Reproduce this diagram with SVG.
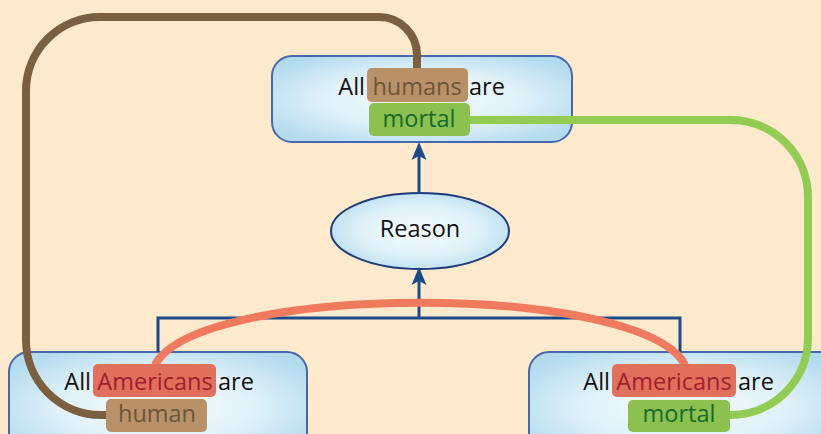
<svg xmlns="http://www.w3.org/2000/svg" width="821" height="434" viewBox="0 0 821 434">
<defs>
<radialGradient id="boxg" cx="50%" cy="50%" r="60%">
<stop offset="0" stop-color="#f7fcfd"/>
<stop offset="0.55" stop-color="#dff1f8"/>
<stop offset="1" stop-color="#b3dbee"/>
</radialGradient>
<marker id="arr" markerWidth="18" markerHeight="18" refX="9" refY="9" orient="auto" markerUnits="userSpaceOnUse" viewBox="0 0 18 18">
<path d="M0,1.5 L18,9 L0,16.5 L4,9 Z" fill="#1b4a8a"/>
</marker>
<style>
.box{fill:url(#boxg);stroke:#4867ae;stroke-width:2}
.t{font-family:"Open Sans","Liberation Sans",sans-serif;font-size:23.5px;fill:#111}
.m{text-anchor:middle}
.e{text-anchor:end}
.hb{fill:#b99169}
.ht{fill:#6b5636}
.ra{fill:#e0705c}
.rt{fill:#a11f2a}
.gb{fill:#8cc04f}
.gt{fill:#136a2c}
.con{fill:none;stroke-width:8;stroke-linecap:butt}
.blue{fill:none;stroke:#1b4a8a;stroke-width:3}
</style>
</defs>
<rect width="821" height="434" fill="#fde9cc"/>

<g id="top-node">
<rect class="box" x="272" y="56" width="300" height="86" rx="20"/>
</g>
<g id="reason">
<ellipse cx="420" cy="231" rx="89" ry="38" fill="url(#boxg)" stroke="#1e3b7a" stroke-width="2"/>
<text class="t m" x="420" y="237">Reason</text>
</g>
<g id="left-node">
<rect class="box" x="9" y="352" width="298" height="110" rx="20"/>
</g>
<g id="right-node">
<rect class="box" x="529" y="352" width="310" height="110" rx="20"/>
</g>

<g id="connectors">
<path class="blue" d="M158,352 V318 H680 V352"/>
<path class="blue" d="M419,318 V276" marker-end="url(#arr)"/>
<path class="blue" d="M419,193 V151" marker-end="url(#arr)"/>
<path class="con" stroke="#ef7a5e" d="M155,365 C198,282 642,282 685,365"/>
<path class="con" stroke="#7a6040" d="M417,69 V55 A38,38 0 0 0 379,17 H100 A74,74 0 0 0 26,91 V340 A75,75 0 0 0 101,415 H107"/>
<path class="con" stroke="#93cc52" d="M470,120 H731 A77,77 0 0 1 808,197 V338 A77,77 0 0 1 731,415 H730"/>
</g>

<g id="top-labels">
<rect class="hb" x="367" y="68" width="101" height="34" rx="5"/>
<rect class="gb" x="369" y="103" width="101" height="33" rx="5"/>
<text class="t e" x="365" y="95">All</text>
<text class="t ht m" x="417" y="95">humans</text>
<text class="t" x="469" y="95">are</text>
<text class="t gt m" x="419" y="127">mortal</text>
</g>
<g id="left-labels">
<rect class="ra" x="93" y="364" width="123" height="33" rx="5"/>
<rect class="hb" x="106" y="399" width="101" height="33" rx="5"/>
<text class="t e" x="91" y="390">All</text>
<text class="t rt m" x="155" y="390">Americans</text>
<text class="t" x="218" y="390">are</text>
<text class="t ht m" x="157" y="422">human</text>
</g>
<g id="right-labels">
<rect class="ra" x="612" y="364" width="124" height="33" rx="5"/>
<rect class="gb" x="628" y="400" width="102" height="32" rx="5"/>
<text class="t e" x="610" y="390">All</text>
<text class="t rt m" x="674" y="390">Americans</text>
<text class="t" x="738" y="390">are</text>
<text class="t gt m" x="679" y="422">mortal</text>
</g>
</svg>
